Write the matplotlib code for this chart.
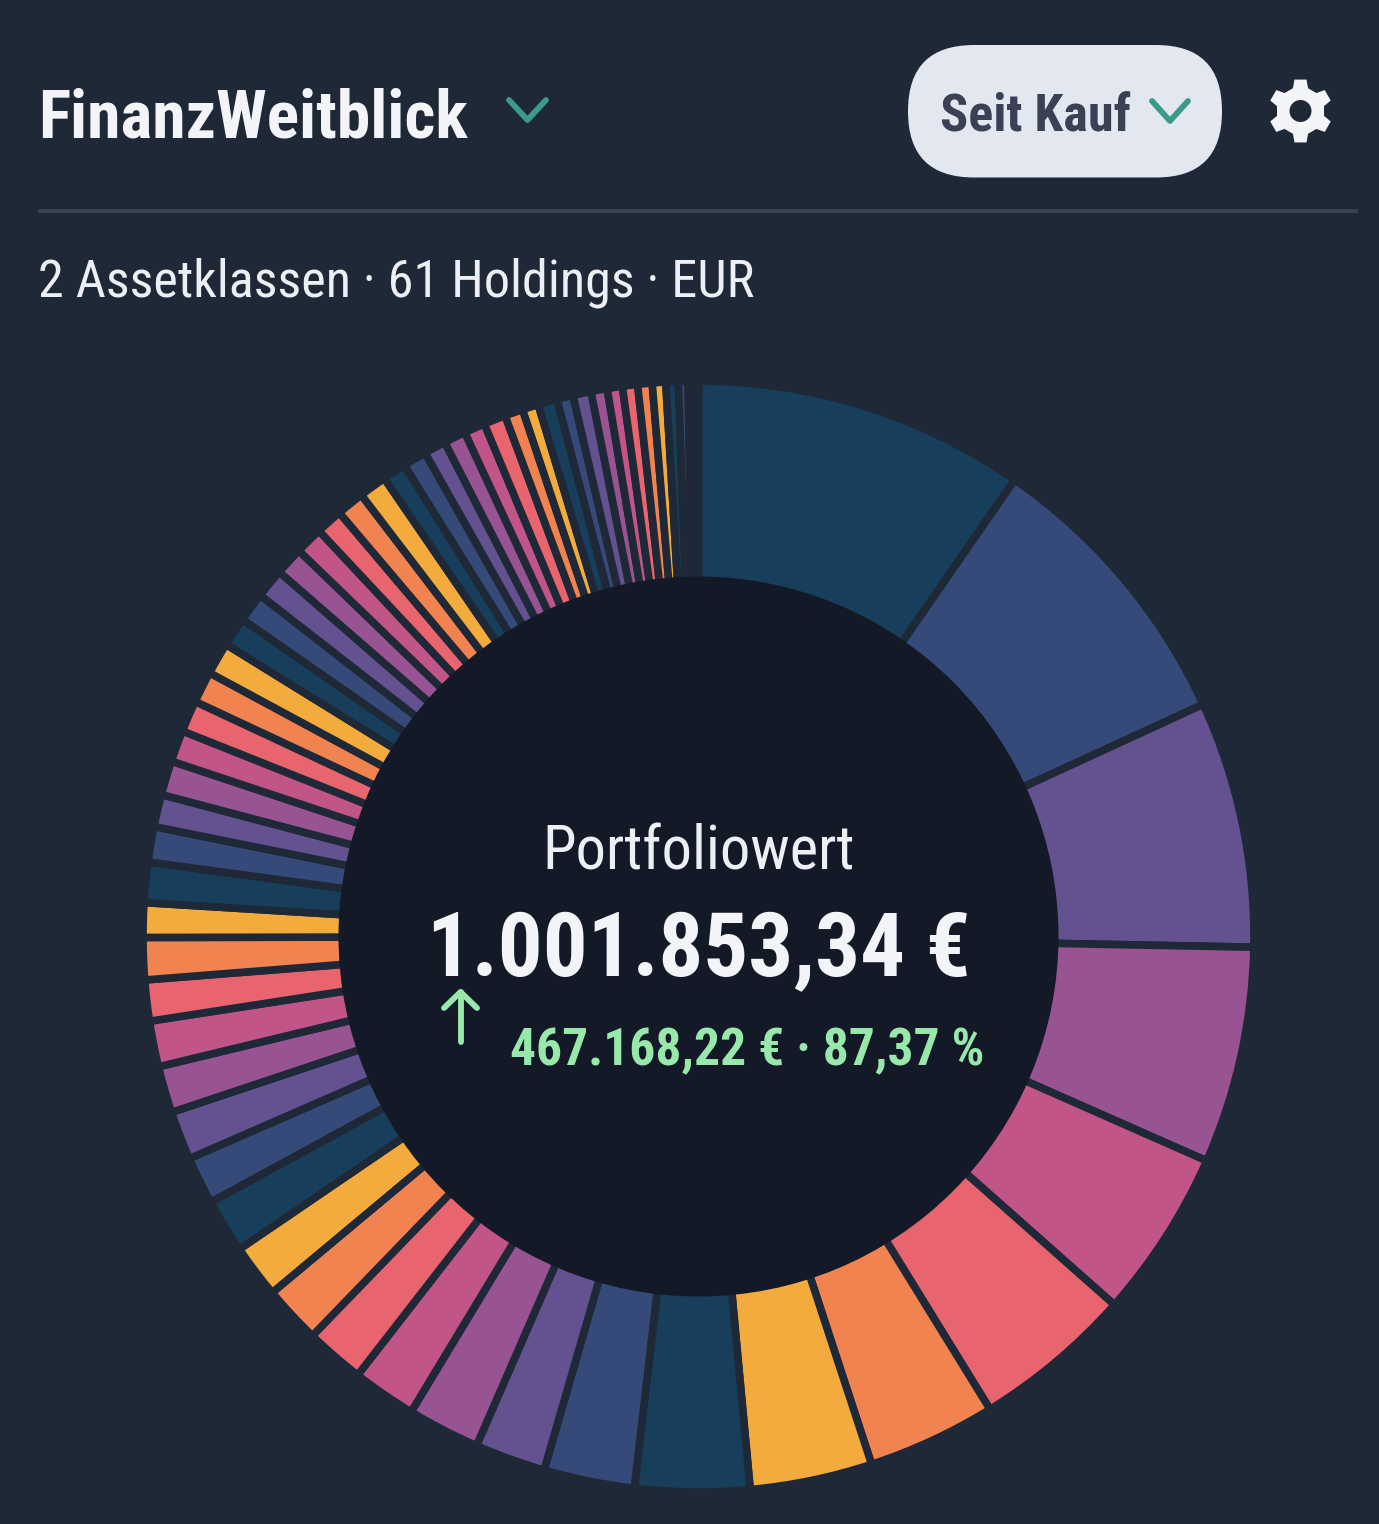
import numpy as np
import matplotlib
matplotlib.use("Agg")
import matplotlib.pyplot as plt
from matplotlib.patches import Circle, FancyBboxPatch, PathPatch
from matplotlib.path import Path

# share of each holding in percent
holding_shares = [
    9.64, 8.50, 7.17, 6.31, 4.92, 4.67, 3.75, 3.56,
    3.33, 2.64, 2.06, 2.11, 1.86, 1.72, 1.69, 1.56,
    1.58, 1.39, 1.42, 1.36, 1.33, 1.19, 1.22, 1.00,
    1.17, 1.03, 0.94, 1.00, 0.92, 0.92, 0.92, 0.94,
    0.86, 0.86, 0.86, 0.83, 0.81, 0.78, 0.81, 0.81,
    0.69, 0.69, 0.64, 0.64, 0.61, 0.64, 0.53, 0.47,
    0.56, 0.47, 0.53, 0.47, 0.44, 0.44, 0.42, 0.39,
    0.36, 0.28, 0.11, 0.11, 0.08,
]
palette = ["#173e5a", "#364a79", "#645190", "#985393",
           "#c25587", "#e8656f", "#f0834f", "#f2ab3c"]

title = "FinanzWeitblick"
range_label = "Seit Kauf"
subtitle = "2 Assetklassen · 61 Holdings · EUR"
center_label = "Portfoliowert"
center_value = "1.001.853,34 €"
center_gain = "467.168,22 € · 87,37 %"

BG = "#1f2836"
HOLE = "#131926"
FONTS = ["Roboto Condensed", "Liberation Sans Narrow", "Roboto", "DejaVu Sans"]


def gear_path(cx, cy, r_out, r_in, r_hole, teeth=6):
    pts = []
    step = 2 * np.pi / teeth
    for k in range(teeth):
        a = -np.pi / 2 + k * step
        for da, r in [(-0.32, r_in), (-0.19, r_out), (0.19, r_out), (0.32, r_in)]:
            pts.append((cx + r * np.cos(a + da), cy + r * np.sin(a + da)))
    pts.append(pts[0])
    t = np.linspace(0, -2 * np.pi, 40)
    hole = np.column_stack([cx + r_hole * np.cos(t), cy + r_hole * np.sin(t)])
    verts = np.vstack([pts, hole])
    codes = ([Path.MOVETO] + [Path.LINETO] * (len(pts) - 2) + [Path.CLOSEPOLY]
             + [Path.MOVETO] + [Path.LINETO] * (len(hole) - 2) + [Path.CLOSEPOLY])
    return Path(verts, codes)


def main():
    plt.rcParams["font.family"] = FONTS
    fig = plt.figure(figsize=(13.79, 15.24), dpi=100, facecolor=BG)
    ax = fig.add_axes([0, 0, 1, 1])
    ax.set_facecolor(BG)

    # y axis runs downward, so angles grow clockwise on screen
    colors = [palette[i % len(palette)] for i in range(len(holding_shares))]
    ax.pie(holding_shares, colors=colors, center=(698.5, 936.5), radius=555.5,
           startangle=-90, counterclock=True, normalize=True,
           wedgeprops={"width": 230, "edgecolor": BG, "linewidth": 5.5})
    ax.add_patch(Circle((698.5, 936.5), 360, facecolor=HOLE, edgecolor="none", zorder=5))

    ax.set_xlim(0, 1379)
    ax.set_ylim(1524, 0)
    ax.axis("off")

    # header
    ax.text(38, 138, title, fontsize=48.6, fontweight="bold", color="#f2f4f7", va="baseline")
    ax.plot([509, 527.5, 546], [100, 120, 100], color="#3c9a8c", lw=4.2, solid_capstyle="round")
    ax.add_patch(FancyBboxPatch((974, 111), 182, 0.5, boxstyle="round,pad=66,rounding_size=66",
                                facecolor="#e2e7f0", edgecolor="none"))
    ax.text(940, 131, range_label, fontsize=37.6, fontweight="bold", color="#3a4154", va="baseline")
    ax.plot([1152, 1170, 1188], [101, 121, 101], color="#3c9a8c", lw=4.2, solid_capstyle="round")
    ax.add_patch(PathPatch(gear_path(1300.5, 111, 32, 24, 11), facecolor="#f2f4f7", edgecolor="none"))
    ax.plot([38, 1358], [211, 211], color="#3a4252", lw=2.8, solid_capstyle="butt")
    ax.text(38, 297, subtitle, fontsize=37.6, color="#eceff3", va="baseline")

    # center of the ring
    ax.text(699, 869, center_label, fontsize=43.7, color="#eceff3", ha="center", va="baseline", zorder=6)
    ax.text(699, 976, center_value, fontsize=64, fontweight="bold", color="#f2f4f7",
            ha="center", va="baseline", zorder=6)
    ax.plot([460.5, 460.5], [992, 1042], color="#98e8ab", lw=4.2, zorder=6, solid_capstyle="round")
    ax.plot([444, 460.5, 477], [1008, 992, 1008], color="#98e8ab", lw=4.2, zorder=6, solid_capstyle="round")
    ax.text(510, 1065, center_gain, fontsize=37.05, fontweight="bold", color="#98e8ab", va="baseline", zorder=6)

    fig.savefig("out.png", dpi=100, facecolor=BG)
    plt.close(fig)


if __name__ == "__main__":
    main()
